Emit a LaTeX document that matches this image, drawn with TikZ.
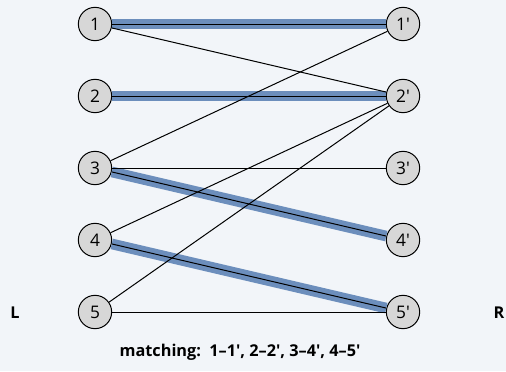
\documentclass[tikz,border=0pt]{standalone}
\usepackage{fontspec}
\setmainfont{Open Sans}
\tikzset{every picture/.style={line width=0.75pt}}
\definecolor{bgcol}{RGB}{242,245,249}
\definecolor{vtxfill}{RGB}{215,215,215}
\definecolor{matchblue}{RGB}{108,142,188}
\newcommand{\pr}{\textquotesingle}
\tikzset{
  vtx/.style={circle,draw=black,fill=vtxfill,minimum size=25pt,inner sep=0pt,font=\fontsize{13}{15}\selectfont},
  plain/.style={draw=black,line width=0.75pt},
  matched/.style={draw=matchblue,line width=8pt},
  side/.style={font=\fontsize{12.2}{14}\selectfont\bfseries}
}

\begin{document}
\begin{tikzpicture}[x=0.75pt,y=0.75pt,yscale=-1,xscale=1]
% background
\fill [bgcol] (0,0) rectangle (506,371);
\useasboundingbox (0,0) rectangle (506,371);

% left vertices
\foreach \i/\y in {1/24,2/96,3/168,4/240,5/312}
  \node [vtx] (l\i) at (95,\y) {\i};
% right vertices
\foreach \i/\y in {1/24,2/96,3/168,4/240,5/312}
  \node [vtx] (r\i) at (403,\y) {\i\pr};

% matching edges
\foreach \a/\b in {1/1,2/2,3/4,4/5}
  \draw [matched] (l\a) -- (r\b);

% all edges
\foreach \a/\b in {1/1,1/2,2/2,3/1,3/3,3/4,4/2,4/5,5/2,5/5}
  \draw [plain] (l\a) -- (r\b);

% Text Node
\node [side] (lft) at (15,313) {L};
% Text Node
\node [side] (rgt) at (499,313) {R};
% Text Node
\node [side] (cap) at (240,352) {matching:\ \ 1–1\pr, 2–2\pr, 3–4\pr, 4–5\pr};

\end{tikzpicture}
\end{document}
